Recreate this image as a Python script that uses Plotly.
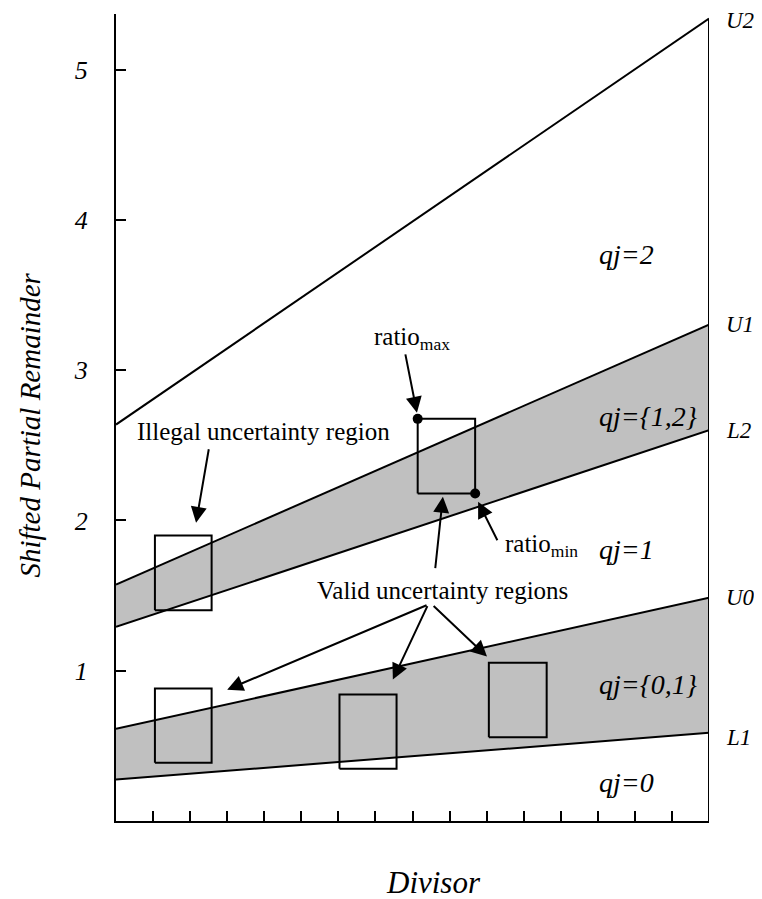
import plotly.graph_objects as go

# ---- data ----
x_ends = [0, 16]
L1 = [0.276, 0.587]
U0 = [0.613, 1.485]
L2 = [1.292, 2.600]
U1 = [1.573, 3.303]
U2 = [2.638, 5.34]

# boxes: x0, x1, y0, y1
box_x0 = [1.05, 1.05, 6.03, 10.06, 8.14]
box_x1 = [2.58, 2.58, 7.57, 11.62, 9.69]
box_y0 = [1.403, 0.387, 0.347, 0.558, 2.179]
box_y1 = [1.90, 0.882, 0.842, 1.053, 2.676]

ratio_pts_x = [8.14, 9.69]
ratio_pts_y = [2.676, 2.179]

y_ticks = [1, 2, 3, 4, 5]

line_names = ["U2", "U1", "L2", "U0", "L1"]
region_labels = ["qj=2", "qj={1,2}", "qj=1", "qj={0,1}", "qj=0"]
region_y = [3.77, 2.69, 1.805, 0.908, 0.256]

SERIF = "Liberation Serif, Times New Roman, serif"
BLACK = "black"
GREY = "#c0c0c0"

fig = go.Figure()

# shaded bands
fig.add_trace(go.Scatter(x=x_ends, y=L1, mode="lines", line=dict(color=BLACK, width=2), cliponaxis=False))
fig.add_trace(go.Scatter(x=x_ends, y=U0, mode="lines", fill="tonexty", fillcolor=GREY,
                         line=dict(color=BLACK, width=2), cliponaxis=False))
fig.add_trace(go.Scatter(x=x_ends, y=L2, mode="lines", line=dict(color=BLACK, width=2), cliponaxis=False))
fig.add_trace(go.Scatter(x=x_ends, y=U1, mode="lines", fill="tonexty", fillcolor=GREY,
                         line=dict(color=BLACK, width=2), cliponaxis=False))
fig.add_trace(go.Scatter(x=x_ends, y=U2, mode="lines", line=dict(color=BLACK, width=2), cliponaxis=False))

# right border line up to U2
fig.add_trace(go.Scatter(x=[x_ends[1], x_ends[1]], y=[0, U2[1]], mode="lines",
                         line=dict(color=BLACK, width=2), cliponaxis=False))

# boxes
bx, by = [], []
for x0, x1, y0, y1 in zip(box_x0, box_x1, box_y0, box_y1):
    bx += [x0, x1, x1, x0, x0, None]
    by += [y0, y0, y1, y1, y0, None]
fig.add_trace(go.Scatter(x=bx, y=by, mode="lines", line=dict(color=BLACK, width=2)))

# ratio points
fig.add_trace(go.Scatter(x=ratio_pts_x, y=ratio_pts_y, mode="markers",
                         marker=dict(color=BLACK, size=10)))

ann = []
# right-side line labels
line_vals = [U2[1] - 0.01, U1[1], L2[1], U0[1], L1[1] - 0.03]
for name, v in zip(line_names, line_vals):
    ann.append(dict(x=x_ends[1], y=v, xref="x", yref="y", text="<i>" + name + "</i>", showarrow=False,
                    xanchor="left", xshift=15, yanchor="middle",
                    font=dict(family=SERIF, size=23, color=BLACK)))
# region labels
for lab, yv in zip(region_labels, region_y):
    ann.append(dict(x=12.98, y=yv, xref="x", yref="y", text="<i>" + lab + "</i>", showarrow=False,
                    xanchor="left", yanchor="middle",
                    font=dict(family=SERIF, size=28, color=BLACK)))

# text annotations
txt_font = dict(family=SERIF, size=25, color=BLACK)
ann.append(dict(x=0.52, y=2.593, xref="x", yref="y", text="Illegal uncertainty region",
                showarrow=False, xanchor="left", yanchor="middle", font=txt_font))
ann.append(dict(x=6.9, y=3.21, xref="x", yref="y", text="ratio<sub>max</sub>",
                showarrow=False, xanchor="left", yanchor="middle", font=txt_font))
ann.append(dict(x=10.44, y=1.83, xref="x", yref="y", text="ratio<sub>min</sub>",
                showarrow=False, xanchor="left", yanchor="middle", font=txt_font))
ann.append(dict(x=5.37, y=1.535, xref="x", yref="y", text="Valid uncertainty regions",
                showarrow=False, xanchor="left", yanchor="middle", font=txt_font))

# arrows (tip x,y ; tail ax,ay)
arrows = [
    (2.16, 1.984, 2.51, 2.484),
    (8.12, 2.716, 7.80, 3.115),
    (9.77, 2.124, 10.31, 1.858),
    (8.82, 2.158, 8.61, 1.672),
    (3.00, 0.874, 8.42, 1.440),
    (7.47, 0.941, 8.42, 1.440),
    (10.01, 1.094, 8.53, 1.440),
]
for x, y, ax, ay in arrows:
    ann.append(dict(x=x, y=y, ax=ax, ay=ay, xref="x", yref="y", axref="x", ayref="y",
                    text="", showarrow=True, arrowhead=2, arrowsize=1.6, arrowwidth=2,
                    arrowcolor=BLACK, standoff=0, startstandoff=0))

# axis titles (paper coordinates)
ann.append(dict(x=-0.145, y=0.49, xref="paper", yref="paper", text="<i>Shifted Partial Remainder</i>",
                showarrow=False, textangle=-90, xanchor="center", yanchor="middle",
                font=dict(family=SERIF, size=29, color=BLACK)))
ann.append(dict(x=0.535, y=-0.076, xref="paper", yref="paper", text="<i>Divisor</i>",
                showarrow=False, xanchor="center", yanchor="middle",
                font=dict(family=SERIF, size=31, color=BLACK)))

fig.update_layout(
    width=754, height=891,
    margin=dict(l=108, r=53, t=6, b=78),
    paper_bgcolor="white", plot_bgcolor="white",
    showlegend=False,
    annotations=ann,
    xaxis=dict(range=[0, 16], showgrid=False, zeroline=False, showline=True,
               linecolor=BLACK, linewidth=2, ticks="inside", ticklen=10, tickwidth=1.5,
               tickcolor=BLACK, tickmode="linear", tick0=0, dtick=1, showticklabels=False),
    yaxis=dict(range=[0, 5.37], showgrid=False, zeroline=False, showline=True,
               linecolor=BLACK, linewidth=2, ticks="inside", ticklen=10, tickwidth=1.5,
               tickcolor=BLACK, tickvals=y_ticks, ticktext=["<i>%d</i>" % v for v in y_ticks],
               ticklabelstandoff=21,
               tickfont=dict(family=SERIF, size=26, color=BLACK)),
)

fig.write_html("out.html")
